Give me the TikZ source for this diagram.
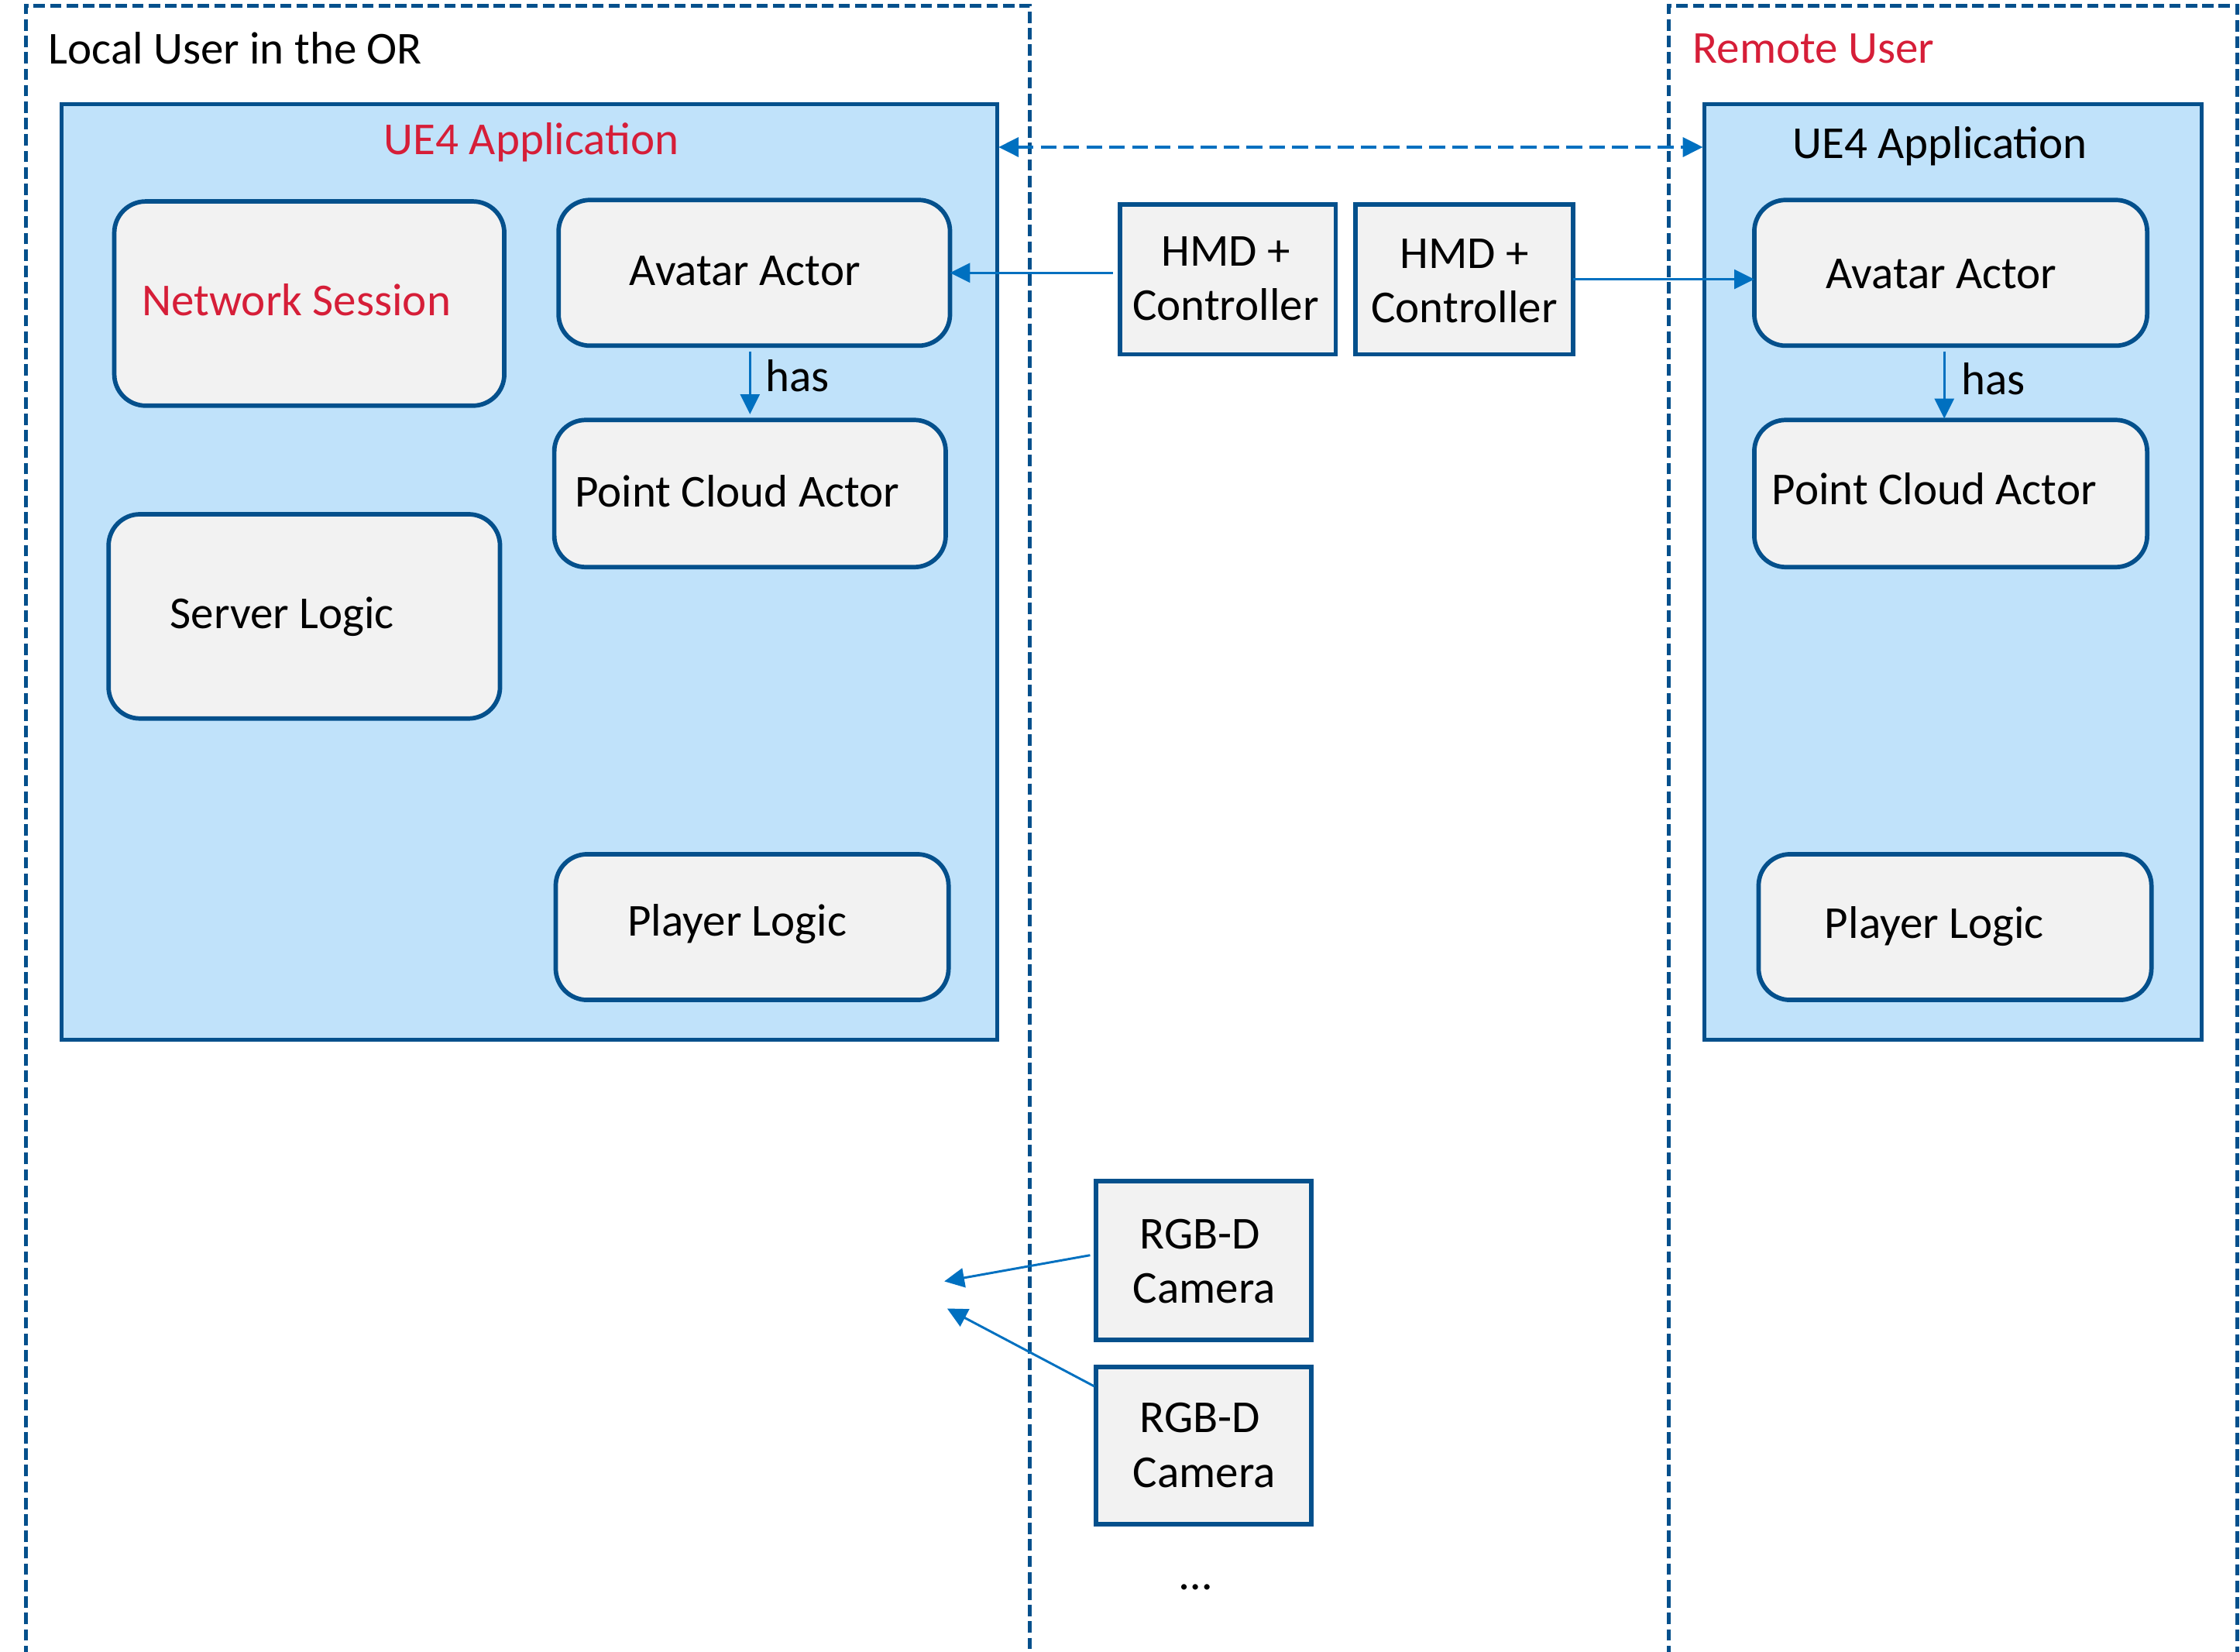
\documentclass[tikz,border=0pt]{standalone}
\usepackage{fontspec}
\setmainfont{Carlito}
\usetikzlibrary{arrows.meta}
\definecolor{dblue}{RGB}{4,80,140}
\definecolor{ablue}{RGB}{0,112,192}
\definecolor{lblue}{RGB}{192,226,250}
\definecolor{gfill}{RGB}{242,242,242}
\definecolor{tred}{RGB}{214,30,56}
\begin{document}
\begin{tikzpicture}[x=1pt,y=-1pt,
  every node/.style={font=\fontsize{32}{38}\selectfont, inner sep=0pt, outer sep=0pt},
  bigbox/.style={draw=dblue, fill=lblue, line width=2.8pt},
  rbox/.style={draw=dblue, fill=gfill, line width=3.1pt, rounded corners=22pt},
  sbox/.style={draw=dblue, fill=gfill, line width=3.1pt},
  outerline/.style={draw=dblue, line width=2.6pt, dash pattern=on 8pt off 3.5pt},
  arr/.style={draw=ablue, line width=1.6pt, -{Triangle[length=14pt,width=13.5pt]}},
  darr/.style={draw=ablue, line width=2pt, dash pattern=on 11pt off 5pt,
    {Triangle[length=14pt,width=13.5pt]}-{Triangle[length=14pt,width=13.5pt]}},
  lbl/.style={anchor=base},
  redt/.style={anchor=base, text=tred}]
\useasboundingbox (0,0) rectangle (1568,1156);

% outer dashed regions
\draw[outerline] (18,1160) -- (18,4) -- (721,4) -- (721,1160);
\draw[outerline] (1168,1160) -- (1168,4) -- (1566,4) -- (1566,1160);
\node[redt, anchor=base west] (tremote) at (1185,44) {Remote User};
\node[lbl, anchor=base west] (tlocal) at (34,45) {Local User in the OR};

% UE4 application boxes
\node[bigbox, minimum width=655pt, minimum height=655pt] (ueL) at (370.5,400.5) {};
\node[bigbox, minimum width=348pt, minimum height=655pt] (ueR) at (1367,400.5) {};
\node[redt] (tueL) at (372,108) {UE4 Application};
\node[lbl] (tueR) at (1358,111) {UE4 Application};

% left components
\node[rbox, minimum width=273pt, minimum height=143pt] (netL) at (216.5,212.5) {};
\node[redt] (tnetL) at (207.5,221) {Network Session};
\node[rbox, minimum width=274pt, minimum height=102pt] (avL) at (528,191) {};
\node[lbl] (tavL) at (521.5,200) {Avatar Actor};
\node[rbox, minimum width=274pt, minimum height=103pt] (pcL) at (525,345.5) {};
\node[lbl] (tpcL) at (516,355) {Point Cloud Actor};
\node[rbox, minimum width=274pt, minimum height=143pt] (srvL) at (213,431.5) {};
\node[lbl] (tsrvL) at (197.5,440) {Server Logic};
\node[rbox, minimum width=275pt, minimum height=102pt] (plL) at (526.5,649) {};
\node[lbl] (tplL) at (516,655) {Player Logic};

% right components
\node[rbox, minimum width=275pt, minimum height=102pt] (avR) at (1365.5,191) {};
\node[lbl] (tavR) at (1359,202) {Avatar Actor};
\node[rbox, minimum width=275pt, minimum height=103pt] (pcR) at (1365.5,345.5) {};
\node[lbl] (tpcR) at (1354,353) {Point Cloud Actor};
\node[rbox, minimum width=275pt, minimum height=102pt] (plR) at (1368.5,649) {};
\node[lbl] (tplR) at (1354,657) {Player Logic};

% has arrows
\draw[arr, shorten <=4pt, shorten >=4pt] (pcL.north |- avL.south) -- (pcL.north);
\node[lbl, anchor=base west] (hasL) at (536,274) {has};
\draw[arr, shorten <=4pt, shorten >=1pt] ([xshift=-4.5pt]avR.south) -- ([xshift=-4.5pt]pcR.north);
\node[lbl, anchor=base west] (hasR) at (1373,276) {has};

% HMD boxes
\node[sbox, minimum width=151pt, minimum height=105pt] (hmd1) at (859.5,195.5) {};
\node[lbl] (thmd1a) at (858,186) {HMD +};
\node[lbl] (thmd1b) at (858,224) {Controller};
\node[sbox, minimum width=152pt, minimum height=105pt] (hmd2) at (1025,195.5) {};
\node[lbl] (thmd2a) at (1025,188) {HMD +};
\node[lbl] (thmd2b) at (1025,226) {Controller};

\draw[arr, shorten <=5pt] (avL.east -| hmd1.west) -- (avL.east);
\draw[arr] (hmd2.east) -- (hmd2.east -| avR.west);
\draw[darr, shorten <=1pt, shorten >=1pt] ([yshift=-30pt]ueL.north east) -- ([yshift=-30pt]ueR.north west);

% cameras
\node[sbox, minimum width=151pt, minimum height=111pt] (cam1) at (842.5,882.5) {};
\node[lbl] (tcam1a) at (840,874) {RGB-D};
\node[lbl] (tcam1b) at (843,912) {Camera};
\node[sbox, minimum width=151pt, minimum height=110pt] (cam2) at (842.5,1012) {};
\node[lbl] (tcam2a) at (840,1003) {RGB-D};
\node[lbl] (tcam2b) at (843,1041) {Camera};
\node[lbl] (dots) at (837,1113) {…};

\coordinate (c1end) at (661,897);
\coordinate (c2end) at (663,916);
\draw[arr, shorten <=4pt] ([yshift=4.5pt]cam1.west) -- (c1end);
\draw[arr, shorten <=1pt] ([yshift=-14pt]cam2.north west) -- (c2end);
\end{tikzpicture}
\end{document}
